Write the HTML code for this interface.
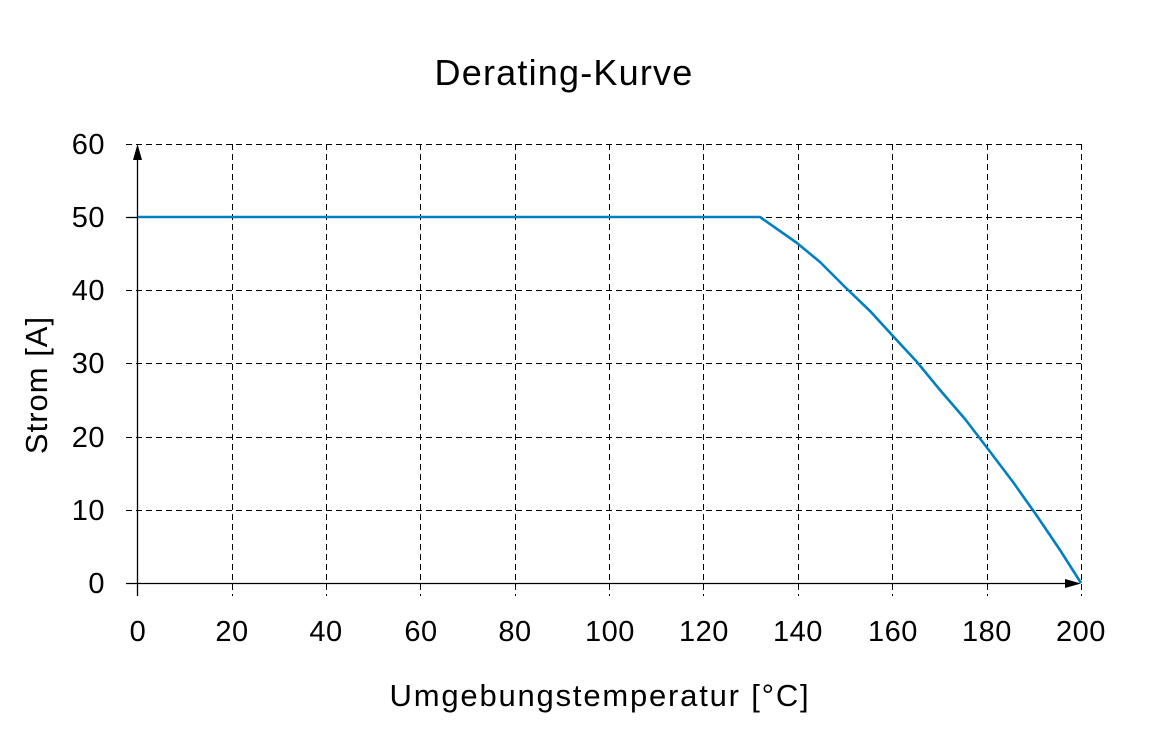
<!DOCTYPE html>
<html><head><meta charset="utf-8"><style>
body{margin:0;background:#fff}
svg{display:block}
text{font-family:"Liberation Sans","DejaVu Sans",sans-serif;fill:#000}
</style></head><body>
<svg width="1162" height="751" viewBox="0 0 1162 751" xmlns="http://www.w3.org/2000/svg">
<rect width="1162" height="751" fill="#fff"/>
<g stroke="#000" stroke-width="1" stroke-dasharray="6,4" fill="none">
<line x1="126" y1="144.5" x2="1081" y2="144.5"/>
<line x1="126" y1="217.5" x2="1081" y2="217.5"/>
<line x1="126" y1="290.5" x2="1081" y2="290.5"/>
<line x1="126" y1="363.5" x2="1081" y2="363.5"/>
<line x1="126" y1="437.5" x2="1081" y2="437.5"/>
<line x1="126" y1="510.5" x2="1081" y2="510.5"/>
<line x1="232.5" y1="144" x2="232.5" y2="596"/>
<line x1="326.5" y1="144" x2="326.5" y2="596"/>
<line x1="420.5" y1="144" x2="420.5" y2="596"/>
<line x1="515.5" y1="144" x2="515.5" y2="596"/>
<line x1="609.5" y1="144" x2="609.5" y2="596"/>
<line x1="703.5" y1="144" x2="703.5" y2="596"/>
<line x1="798.5" y1="144" x2="798.5" y2="596"/>
<line x1="892.5" y1="144" x2="892.5" y2="596"/>
<line x1="987.5" y1="144" x2="987.5" y2="596"/>
<line x1="1081.5" y1="144" x2="1081.5" y2="596"/>
</g>
<g stroke="#000" stroke-width="1.3" fill="none">
<line x1="137.5" y1="155" x2="137.5" y2="596"/>
<line x1="126" y1="583.5" x2="1070" y2="583.5"/>
<line x1="126" y1="217.5" x2="137" y2="217.5"/>
</g>
<polygon points="137.5,144 133,160 142,160" fill="#000"/>
<polygon points="1081,583.5 1065,579 1065,588" fill="#000"/>
<polyline fill="none" stroke="#0080c0" stroke-width="2.6" stroke-linejoin="round" points="138,217 760,217 797,243 820,262 845,287 870,311 892,335 917,362 940,390 965,419 988,449 1013,482 1037,516 1060,550 1081,583"/>
<text x="564" y="85" font-size="36" letter-spacing="1.2" text-anchor="middle">Derating-Kurve</text>
<g font-size="29" text-anchor="end" letter-spacing="0.5">
<text x="105" y="154">60</text><text x="105" y="227">50</text><text x="105" y="300">40</text>
<text x="105" y="373">30</text><text x="105" y="447">20</text><text x="105" y="520">10</text><text x="105" y="593">0</text>
</g>
<g font-size="29" text-anchor="middle" letter-spacing="0.5">
<text x="138" y="641">0</text><text x="232" y="641">20</text><text x="326" y="641">40</text><text x="421" y="641">60</text>
<text x="515" y="641">80</text><text x="610" y="641">100</text><text x="704" y="641">120</text><text x="798" y="641">140</text>
<text x="893" y="641">160</text><text x="987" y="641">180</text><text x="1081" y="641">200</text>
</g>
<text x="600" y="706" font-size="31" letter-spacing="1.8" text-anchor="middle">Umgebungstemperatur [°C]</text>
<text transform="translate(47,385) rotate(-90)" font-size="31" letter-spacing="1" text-anchor="middle">Strom [A]</text>
</svg>
</body></html>
